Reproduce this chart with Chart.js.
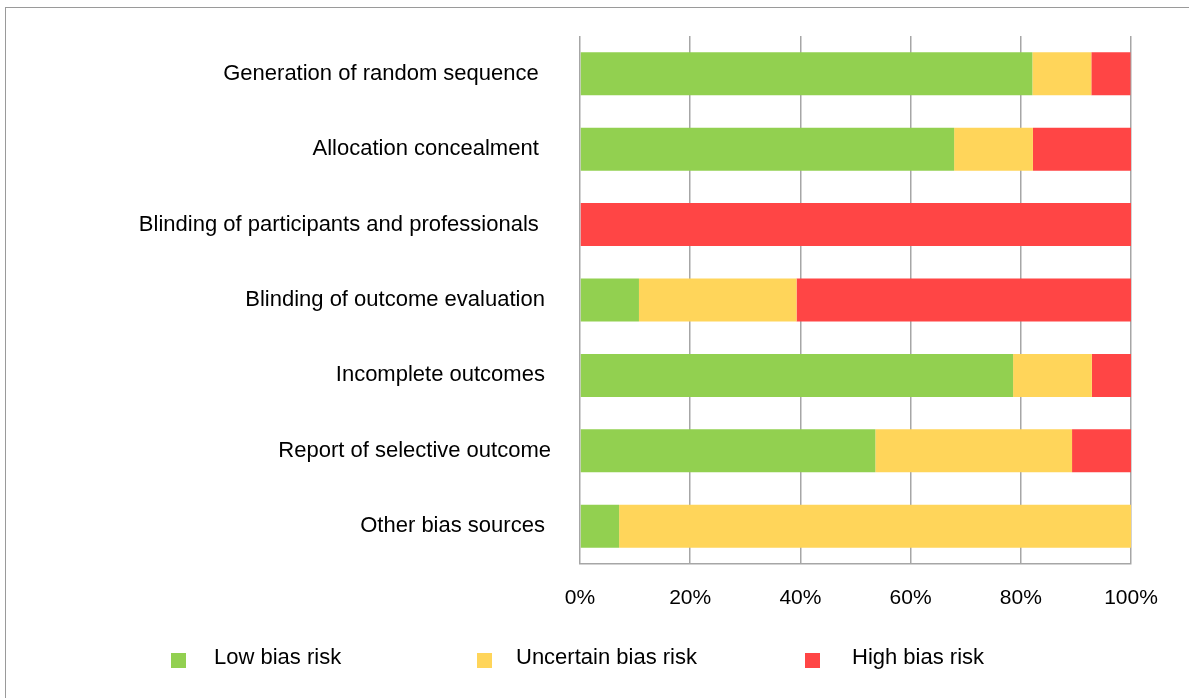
<!DOCTYPE html>
<html>
<head>
<meta charset="utf-8">
<script src="https://cdn.jsdelivr.net/npm/chart.js@4/dist/chart.umd.min.js"></script>
<style>
  body { margin:0; background:#fff; font-family:"Liberation Sans", Arial, sans-serif; }
  #wrap { position:relative; width:1189px; height:698px; overflow:hidden; }
  #frame { position:absolute; left:5px; top:7px; width:1200px; height:720px; border-top:1.5px solid #9a9a9a; border-left:1.5px solid #9a9a9a; }
  #chart { position:absolute; left:0; top:0; }
  .lg-box { position:absolute; width:15px; height:15px; }
  .lg-txt { position:absolute; font-size:22px; line-height:22px; color:#000; white-space:nowrap; }
</style>
</head>
<body>
<div id="wrap">
  <div id="frame"></div>
  <canvas id="chart" width="1189" height="698"></canvas>
  <div id="legend"></div>
</div>
<script>
// categories (trailing spaces kept as in the source labels)
const categories = [
  'Generation of random sequence  ',
  'Allocation concealment  ',
  'Blinding of participants and professionals  ',
  'Blinding of outcome evaluation ',
  'Incomplete outcomes ',
  'Report of selective outcome',
  'Other bias sources '
];
const seriesNames = ['Low bias risk', 'Uncertain bias risk', 'High bias risk'];
const seriesColors = ['#92d050', '#ffd55a', '#ff4545'];

// percentages
const lowRisk       = [82.1, 67.9, 0,   10.7, 78.6, 53.6, 7.1];
const uncertainRisk = [10.7, 14.3, 0,   28.6, 14.3, 35.7, 92.9];
const highRisk      = [7.1,  17.9, 100, 60.7, 7.1,  10.7, 0];

const xTicks = [0, 20, 40, 60, 80, 100];

// legend layout
const legendBoxX = [171, 477, 805];
const legendTextX = [214, 516, 852];

const values = [lowRisk, uncertainRisk, highRisk];

new Chart(document.getElementById('chart'), {
  type: 'bar',
  data: {
    labels: categories,
    datasets: seriesNames.map((name, i) => ({
      label: name,
      data: values[i],
      backgroundColor: seriesColors[i],
      borderWidth: 0,
      categoryPercentage: 1,
      barPercentage: 0.57
    }))
  },
  options: {
    indexAxis: 'y',
    responsive: false,
    animation: false,
    layout: { padding: { top: 36, right: 58, left: 0, bottom: 74 } },
    plugins: { legend: { display: false }, tooltip: { enabled: false } },
    scales: {
      y: {
        stacked: true,
        grid: { display: false, drawTicks: false },
        border: { display: false },
        ticks: { color: '#000', padding: 29, font: { family: 'Liberation Sans', size: 22 } },
        afterFit: s => { s.width = 580; s.paddingTop = 0; s.paddingBottom = 0; }
      },
      x: {
        stacked: true,
        min: 0, max: 100,
        afterBuildTicks: s => { s.ticks = xTicks.map(v => ({ value: v })); },
        grid: { color: '#a6a6a6', lineWidth: 1.5, drawTicks: false },
        border: { display: true, color: '#a6a6a6', width: 1.5 },
        ticks: { color: '#000', padding: 22, font: { family: 'Liberation Sans', size: 21 }, callback: v => v + '%' },
        afterFit: s => { s.height = 60; }
      }
    }
  }
});

const legend = document.getElementById('legend');
legend.innerHTML = seriesNames.map((name, i) =>
  `<div class="lg-box" style="left:${legendBoxX[i]}px;top:653px;background:${seriesColors[i]}"></div>` +
  `<div class="lg-txt" style="left:${legendTextX[i]}px;top:646px">${name}</div>`
).join('');
</script>
</body>
</html>
